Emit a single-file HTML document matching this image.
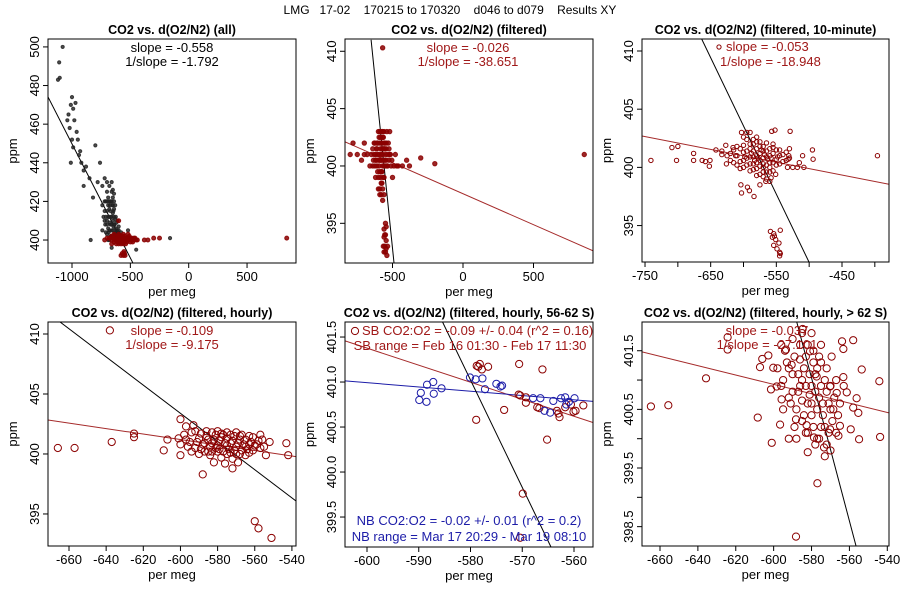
<!DOCTYPE html>
<html><head><meta charset="utf-8"><style>
body{margin:0;background:#fff}
svg{display:block;font-family:"Liberation Sans",sans-serif}
</style></head><body>
<svg id="chart" width="900" height="600" viewBox="0 0 900 600" xmlns="http://www.w3.org/2000/svg">
<text x="450" y="14" text-anchor="middle" font-size="12" xml:space="preserve">LMG   17-02    170215 to 170320    d046 to d079    Results XY</text>
</svg>
<script>
// ---- data (data units: per meg, ppm) ----
const p1Black = "-1080,500 -1110,492 -1120,483 -1105,484 -1000,474 -1010,470 -990,468 -970,471 -1030,465 -1040,462 -980,462 -1020,458 -960,456 -1000,452 -950,452 -990,448 -940,444 -1010,440 -900,436 -930,446 -920,440 -880,438 -850,432 -800,449 -760,440 -900,428 -820,422 -780,430 -740,428 -720,432 -700,425 -740,418 -700,415 -680,412 -660,412 -640,416 -700,408 -650,405 -620,404 -600,402 -740,405 -680,420 -660,425 -720,410 -640,408 -580,404 -600,407 -840,400 -160,401 -450,395 -520,405 -680,400 -660,396 -710,412 -690,418 -670,408 -650,414 -660,405 -650,410 -640,412 -670,415 -655,418 -645,407 -635,403 -625,406 -665,402 -675,409 -685,404 -690,412 -630,411 -615,405 -605,404 -595,403 -660,420 -650,422 -640,402 -720,415 -710,420 -700,420 -700,410 -690,406 -690,422 -680,416 -680,405 -675,418 -670,420 -670,402 -665,412 -660,408 -655,402 -650,418 -645,415 -640,420 -635,408 -630,404 -625,412 -620,409 -615,402 -710,404 -700,403 -690,400 -720,420 -730,412 -650,426 -660,430 -700,430 -680,428 -640,424 -610,410 -600,405 -590,402 -620,401 -630,418 -715,408";
const p1Red = "-650,401 -630,400 -610,399 -600,402 -590,401 -580,400 -570,399 -560,401 -550,402 -540,400 -530,399 -520,401 -510,400 -500,401 -490,400 -480,399 -470,400 -460,401 -450,400 -440,400 -620,402 -600,398 -580,402 -560,399 -540,401 -520,403 -500,399 -640,399 -660,400 -680,401 -700,401 -720,400 -380,400 -350,400 -300,401 -250,401 -600,410 840,401 -570,393 -560,392 -550,393 -580,392 -555,394 -545,392 -660,402 -640,401 -620,400 -610,401 -590,399 -570,402 -550,399 -530,401 -510,402 -490,401 -470,401 -620,398 -580,398 -560,398 -540,398 -600,400 -560,400 -520,400 -480,400 -640,403 -600,403 -560,403 -660,398";
const p2Red = "-650,401 -640,400 -630,402 -620,401 -610,400 -600,403 -590,402 -580,401 -570,400 -560,399 -550,401 -540,400 -530,402 -520,401 -510,400 -500,399 -490,400 -480,401 -470,400 -460,400 -600,399 -590,398 -580,397.5 -570,398 -560,400 -580,403 -570,402.5 -560,403 -540,403 -520,403 -610,402 -620,399 -660,400 -680,401 -700,401 -720,400.5 -750,401 -780,402 -800,401 -700,402 -430,400 -400,400.5 -380,400 -300,400.7 -200,400.2 860,401 -570,410.3 -560,394.5 -550,394 -545,393.5 -555,393 -550,392.5 -540,392.2 -560,393.8 -545,394.7 -535,393 -640,401.5 -635,400.5 -630,401 -625,400 -625,402 -615,401.5 -615,400.5 -605,401 -605,402 -605,399.5 -595,401 -595,400 -595,402.5 -585,401.5 -585,400.5 -585,399 -585,402.5 -575,401.5 -575,400.5 -575,399.5 -575,398.5 -575,402 -565,401.5 -565,400.5 -565,399 -565,402.5 -555,401.5 -555,400.5 -555,402 -545,401.5 -545,400.5 -545,402 -535,401 -535,400 -525,401.5 -525,400.5 -515,401 -505,400.5 -600,398 -590,397.5 -580,398.5 -570,397 -560,397.5 -590,403 -580,402 -570,401 -560,402 -550,400 -600,400.5 -610,401.5 -620,400.5 -560,401.5 -570,403 -580,399.5 -590,399.5 -590,400.5 -555,394 -565,393 -550,395 -545,392.8 -560,392.5";
const p3Red = "-741,400.6 -709,401.7 -700,401.8 -702,400.6 -676,401.2 -676,400.6 -663,400.6 -658,400.5 -652,400.1 -651,400.6 -642,401.5 -633,401.1 -633,401.4 -627,401.9 -626,400.3 -616,401.7 -604,398.5 -603,397.8 -591,398 -584,397.5 -594,398.3 -603,403 -557,403.1 -552,403.2 -529,403.1 -530,401.6 -531,401 -532,400.7 -533,400 -525,400 -518,400 -515,400.4 -510,401 -508,400 -495,401.5 -494,400.7 -396,401 -566,398.8 -558,399.1 -551,399.4 -559,394.5 -554,394.3 -553,394.1 -544,394.6 -556,394 -551,393.8 -546,393.5 -554,393.3 -549,393 -545,392.7 -545,392.4 -544,392.6 -610,401 -605,400.5 -600,401.3 -595,400.8 -590,401.6 -585,400.3 -580,401 -575,400.6 -570,401.4 -565,400.9 -560,400.4 -555,401.2 -550,400.7 -545,401 -540,400.5 -600,400 -590,399.7 -580,399.9 -570,400 -560,399.6 -585,402 -575,401.8 -565,402.1 -555,401.7 -595,402.4 -590,403 -620,401.2 -615,400.4 -580,402.6 -570,399.2 -560,398.8 -575,398.5 -535,401.3 -530,400.8 -625,401 -620,400.6 -615,401.5 -610,400.2 -610,401.8 -605,401.6 -605,399.9 -600,401.9 -600,400.6 -595,401.4 -595,400.2 -590,400.9 -590,402 -590,400.3 -585,401.4 -585,400.9 -585,399.8 -580,401.6 -580,400.4 -580,402.2 -575,401.2 -575,400.1 -575,402.2 -570,401.8 -570,400.8 -570,400.3 -565,401.4 -565,400.2 -565,399.6 -560,401.6 -560,401 -560,400 -555,400.4 -555,399.7 -555,402 -550,401.5 -550,400.2 -545,401.5 -545,400.3 -540,401.1 -535,400.6 -600,402.6 -595,403 -585,402.4 -575,399.4 -570,399.6 -565,399 -580,399.3 -612,401 -598,400.9 -588,401.2 -578,400.8 -568,401.1 -558,400.8 -548,400.9 -583,400.6 -573,401.5 -563,400.7";
const p4Red = "-666,400.5 -657,400.5 -637,401 -625,401.7 -625,401.4 -609,400.3 -607,401.2 -601,401.3 -600,399.9 -600,402.9 -597,402.3 -588,398.3 -593,402.4 -582,399.3 -576,399.2 -572,398.8 -569,399.3 -557,401.6 -552,401 -554,399.9 -543,400.9 -542,399.9 -560,394.4 -558,393.8 -551,393 -638,410.3 -595,401 -592,400.5 -590,401.3 -588,400.8 -586,401.5 -584,400.6 -582,401.2 -580,400.7 -578,401.4 -576,400.9 -574,400.4 -572,401.1 -570,400.6 -568,401.2 -566,400.8 -564,400.4 -562,401 -560,400.7 -558,401.1 -590,400 -585,400.2 -580,400.2 -575,400 -570,400 -565,399.9 -583,401.8 -578,401.7 -573,401.6 -568,401.5 -563,401.5 -600,400.8 -597,401.2 -555,400.6 -598,401.6 -596,400.6 -594,401.8 -594,400.2 -592,401.9 -591,401 -589,400.4 -589,401.7 -587,400.9 -587,400.2 -585,401.2 -583,400.9 -583,400.2 -581,401.6 -581,400.5 -579,401.1 -579,400.4 -577,401.6 -577,400.2 -575,400.7 -575,401.3 -573,400.9 -573,400.1 -571,401.5 -571,400.3 -569,400.9 -567,400.3 -567,401.6 -565,401.2 -563,400.8 -563,400.1 -561,401.4 -561,400.3 -559,400.8 -557,400.5 -556,401.2 -586,401.9 -580,401.9 -575,401.8 -570,401.8 -565,400.6 -568,400 -572,399.6 -578,399.7 -584,399.9";
const p5Blue = "-589.9,400.8 -589.6,400.88 -588.5,400.78 -588.4,400.97 -587.2,401 -587.1,400.87 -585.6,400.93 -580.1,401.05 -579,401.03 -577.7,401.04 -577.2,400.92 -575,400.98 -574.2,400.95 -573.9,400.96 -567.9,400.82 -566.5,400.82 -565.7,400.68 -564.6,400.66 -564,400.79 -562.5,400.82 -561.7,400.83 -561,400.78 -559.9,400.82 -561.5,400.75";
const p5Red = "-578.8,401.18 -578.2,401.2 -577.8,401.14 -576.6,401.17 -578.5,401.17 -570.6,401.2 -566.1,401.14 -578.9,400.58 -573.5,400.69 -570.7,400.86 -570.4,400.85 -569.3,400.83 -569.3,400.77 -567.1,400.72 -566.7,400.71 -565.2,400.36 -569.9,399.76 -570.4,399.27 -563.3,400.68 -563,400.65 -562.8,400.61 -561.7,400.72 -560.1,400.67 -559.7,400.68 -558.2,400.74 -560.6,400.75";
const p6Red = "-664.8,400.55 -655.6,400.57 -635.7,401.03 -624.3,401.73 -624.3,401.52 -608.4,400.36 -607.2,401.22 -606,401.36 -602.8,401.42 -600.2,401.21 -601,399.93 -601.4,400.84 -596.6,400.24 -593.5,401.52 -588.2,400.33 -588.2,398.33 -584.7,401.87 -582,399.77 -576.9,399.24 -578.7,400.02 -573.4,399.85 -569.4,401.4 -563.9,401.66 -558,401.68 -563.2,401.53 -553.5,401.18 -556.2,400.69 -555.3,400.44 -544.2,400.98 -543.8,400.03 -554.9,399.99 -559.3,400.16 -558,400.53 -561.4,400.79 -563.2,401.05 -565.8,400.05 -582.6,400.23 -595.8,400.67 -598.4,400.89 -590.5,401.26 -586.1,401.35 -577.3,401.06 -580.8,401.49 -570.2,400.89 -568.5,400.5 -570.2,400.16 -565,400.22 -566.7,400.78 -595,401 -592,400.7 -590,401.1 -588,400.5 -586,400.9 -584,401.2 -582,400.6 -580,400.9 -578,401.1 -576,400.7 -574,400.4 -572,400.8 -570,400.5 -585,400.3 -580,400.4 -575,400.2 -590,400.8 -583,401.4 -579,401.3 -573,401 -568,400.7 -566,400.4 -577,400 -582,400.1 -571,400.1 -587,401.1 -593,401.3 -581,400.75 -576,401.4 -585,400.65 -598,401.2 -596,400.9 -594,401.5 -592,401.2 -591,400.6 -589,401.4 -589,400.2 -587,400.8 -586,401.6 -585,401 -584,400.4 -583,400.9 -582,401.6 -581,401.1 -580,400.6 -579,401.5 -579,400.2 -578,400.8 -577,401.2 -577,400.5 -576,400 -575,400.9 -575,401.6 -574,400.6 -573,400.2 -572,401.2 -572,399.9 -571,400.6 -570,400.9 -569,400.3 -567,401 -567,400.1 -565,400.6 -563,400.9 -590,401.7 -585,401.8 -580,401.8 -575,401.3 -583,400.1 -588,400 -578,399.9 -573,399.7 -570,399.8 -595,400.5 -592,400 -596,401.6";
// fit lines (data-unit endpoints)
const p1Lines = [[-1205,474,-477,388,"#000"]];
const p2Lines = [[-652,411,-489,391.5,"#000"],[-837,402.1,922,392.6,"#a52a2a"]];
const p3Lines = [[-663.7,411.03,-500.3,391.87,"#000"],[-754.6,402.7,-378.4,398.55,"#a52a2a"]];
const p4Lines = [[-664.8,411,-537.8,396.08,"#000"],[-671.3,402.83,-537.8,399.78,"#a52a2a"]];
const p5Lines = [[-604.25,401.457,-556.33,400.55,"#a52a2a"],[-604.25,401.013,-556.33,400.785,"#1c1ca8"],[-585.4,401.667,-564.45,399.167,"#000"]];
const p6Lines = [[-587.8,401.99,-556.5,398.17,"#000"],[-669.5,401.48,-539.1,400.44,"#a52a2a"]];
// tick values
const p1X = [-1000,-500,0,500], p1Y = [400,420,440,460,480,500];
const p2X = [-500,0,500], p2Y = [395,400,405,410];
const p3X = [-750,-700,-650,-600,-550,-500,-450,-400], p3XL = [-750,-650,-550,-450], p3Y = [395,400,405,410];
const p4X = [-660,-640,-620,-600,-580,-560,-540], p4Y = [395,400,405,410];
const p5X = [-600,-590,-580,-570,-560], p5Y = [399.5,400,400.5,401,401.5];
const p6X = [-660,-640,-620,-600,-580,-560,-540], p6Y = [398.5,399,399.5,400,400.5,401,401.5], p6YL = [398.5,399.5,400.5,401.5];

const NS = "http://www.w3.org/2000/svg";
const svg = document.getElementById("chart");
function mk(tag, attrs, parent){const e=document.createElementNS(NS,tag);for(const k in attrs)e.setAttribute(k,attrs[k]);(parent||svg).appendChild(e);return e;}
function parse(s){return s.trim().split(/\s+/).map(p=>p.split(",").map(Number));}
function fmt(v,dec){return dec?v.toFixed(1):String(v);}

function panel(id, box, xd, yd, title, xt, xl, yt, yl, dec){
  const g = mk("g",{});
  
  
  const [L,T,R,B]=box;
  const sx=v=>L+(v-xd[0])/(xd[1]-xd[0])*(R-L);
  const sy=v=>B-(v-yd[0])/(yd[1]-yd[0])*(B-T);
  const clip = mk("clipPath",{id:id+"-clip"},g);
  mk("rect",{x:L,y:T,width:R-L,height:B-T},clip);
  const plot = mk("g",{"clip-path":"url(#"+id+"-clip)"},g);
  const t = mk("text",{x:(L+R)/2,y:T-5,"text-anchor":"middle","font-size":12.5,"font-weight":"bold"},g);
  t.textContent=title;
  
  
  xt.forEach(v=>{
    const tk=mk("line",{x1:sx(v),x2:sx(v),y1:B,y2:B+5,stroke:"#000"},g);
    
    
    if(xl.includes(v)){
      const tx=mk("text",{x:sx(v),y:B+18,"text-anchor":"middle","font-size":13},g);
      tx.textContent=fmt(v,false);
      
      
    }
  });
  yt.forEach(v=>{
    const tk=mk("line",{x1:L-5,x2:L,y1:sy(v),y2:sy(v),stroke:"#000"},g);
    
    
    if(yl.includes(v)){
      const tx=mk("text",{x:L-9,y:sy(v),"text-anchor":"middle","font-size":13,transform:`rotate(-90 ${L-9} ${sy(v)})`},g);
      tx.textContent=fmt(v,dec);
      
      
    }
  });
  const xa=mk("text",{x:(L+R)/2,y:B+33,"text-anchor":"middle","font-size":13},g);
  xa.textContent="per meg";
  
  
  const ya=mk("text",{x:L-31,y:(T+B)/2,"text-anchor":"middle","font-size":13,transform:`rotate(-90 ${L-31} ${(T+B)/2})`},g);
  ya.textContent="ppm";
  
  
  const frame=mk("rect",{x:L,y:T,width:R-L,height:B-T,fill:"none",stroke:"#000","stroke-width":1},g);
  
  
  return {plot,sx,sy,g};
}
function points(P, str, r, color, filled, op){
  parse(str).forEach(([x,y])=>{
    const c=mk("circle",{cx:P.sx(x),cy:P.sy(y),r:r,fill:filled?color:"none",stroke:color,"stroke-width":1,"fill-opacity":op||1,"stroke-opacity":op||1},P.plot);
    
    
  });
}
function lines(P, arr){
  arr.forEach(([x1,y1,x2,y2,c])=>{
    const l=mk("line",{x1:P.sx(x1),y1:P.sy(y1),x2:P.sx(x2),y2:P.sy(y2),stroke:c,"stroke-width":1},P.plot);
    
    
  });
}
function label(P, x, y, txt, color, anchor){
  const t=mk("text",{x:x,y:y,"text-anchor":anchor||"middle","font-size":13,fill:color},P.g);
  t.textContent=txt;
  
  
}
const RED="#8b0000", TRED="#a01818", BLUE="#1c1ca8";

const P1=panel("panel-all",[48,39,296,263],[-1205.7,919.5],[388.1,504.1],"CO2 vs. d(O2/N2) (all)",p1X,p1X,p1Y,p1Y,false);
lines(P1,p1Lines);
points(P1,p1Black,1.6,"#222",true,0.8);
points(P1,p1Red,2.0,RED,true,0.85);
label(P1,172,52,"slope = -0.558","#000");
label(P1,172,66,"1/slope = -1.792","#000");

const P2=panel("panel-filtered",[345,39,593,263],[-837,922],[391.54,411.07],"CO2 vs. d(O2/N2) (filtered)",p2X,p2X,p2Y,p2Y,false);
lines(P2,p2Lines);
points(P2,p2Red,2.2,RED,true,0.85);
label(P2,468,52,"slope = -0.026",TRED);
label(P2,468,66,"1/slope = -38.651",TRED);

const P3=panel("panel-10min",[642,39,889,262],[-754.6,-378.4],[391.87,411.03],"CO2 vs. d(O2/N2) (filtered, 10-minute)",p3X,p3XL,p3Y,p3Y,false);
lines(P3,p3Lines);
points(P3,p3Red,2.2,RED,false);
mk("circle",{cx:719,cy:47,r:2.1,fill:"none",stroke:RED},P3.g);
label(P3,726,51,"slope = -0.053",TRED,"start");
label(P3,720,66,"1/slope = -18.948",TRED,"start");

const P4=panel("panel-hourly",[48,322,296,546],[-671.3,-537.8],[392.33,411],"CO2 vs. d(O2/N2) (filtered, hourly)",p4X,p4X,p4Y,p4Y,false);
lines(P4,p4Lines);
points(P4,p4Red,3.6,RED,false);
label(P4,172,335,"slope = -0.109",TRED);
label(P4,172,349,"1/slope = -9.175",TRED);

const P5=panel("panel-hourly-56-62S",[345,322,593,547],[-604.25,-556.33],[399.167,401.667],"CO2 vs. d(O2/N2) (filtered, hourly, 56-62 S)",p5X,p5X,p5Y,p5Y,true);
lines(P5,p5Lines);
points(P5,p5Red,3.6,RED,false);
points(P5,p5Blue,3.6,BLUE,false);
mk("circle",{cx:355,cy:331,r:3.6,fill:"none",stroke:RED},P5.g);
label(P5,362,335,"SB CO2:O2 = -0.09 +/- 0.04 (r^2 = 0.16)",TRED,"start");
label(P5,470,350,"SB range = Feb 16 01:30 - Feb 17 11:30",TRED);
label(P5,469,525,"NB CO2:O2 = -0.02 +/- 0.01 (r^2 = 0.2)",BLUE);
label(P5,469,541,"NB range = Mar 17 20:29 - Mar 19 08:10",BLUE);

const P6=panel("panel-hourly-gt62S",[642,322,889,546],[-669.5,-539.1],[398.17,401.99],"CO2 vs. d(O2/N2) (filtered, hourly, > 62 S)",p6X,p6X,p6Y,p6YL,true);
lines(P6,p6Lines);
points(P6,p6Red,3.6,RED,false);
label(P6,767,335,"slope = -0.037",TRED);
label(P6,767,349,"1/slope = -27.101",TRED);
</script>
</body></html>
